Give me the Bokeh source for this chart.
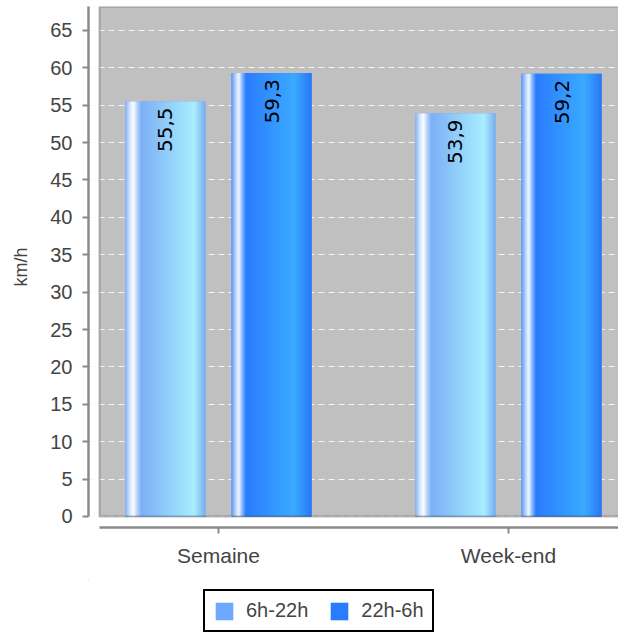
import numpy as np
from bokeh.plotting import figure
from bokeh.layouts import column
from bokeh.models import (BoxAnnotation, Range1d, FixedTicker, SingleIntervalTicker,
                          Legend, LegendItem, ColumnDataSource)
from bokeh.core.properties import value
from bokeh.embed import file_html
from bokeh.resources import INLINE

# ---- data ----
categories = ["Semaine", "Week-end"]
series_names = ["6h-22h", "22h-6h"]
speed_day = [55.5, 53.9]      # 6h-22h
speed_night = [59.3, 59.2]    # 22h-6h
y_label = "km/h"

# ---- style ----
BAR_W = 0.276
OFFSET = 0.183
X_START, X_END = -0.4483, 1.3793
BOX_LEFT = -0.4103
Y_START, Y_END = -1.471, 68.2
FONT = "Liberation Sans"
TXT = "#444444"
AXIS_C = "#8a8a8a"

light_solid = "#6fa8ff"
dark_solid = "#2a7cff"
light_stops = [(0.0, "#84b4f2"), (0.06, "#d8e8ff"), (0.10, "#ffffff"), (0.15, "#b0d0fa"),
               (0.20, "#7cb0f6"), (0.86, "#a8eeff"), (1.0, "#78acf0")]
dark_stops = [(0.0, "#5a9af8"), (0.06, "#c8dcff"), (0.09, "#f4f8ff"), (0.13, "#90bcff"),
              (0.18, "#2a7cff"), (0.78, "#3aaaff"), (1.0, "#2a78f6")]


def hex2rgb(h):
    h = h.lstrip("#")
    return [int(h[i:i + 2], 16) for i in (0, 2, 4)]


def gradient(stops, n=80):
    pos = np.array([s[0] for s in stops])
    cols = np.array([hex2rgb(s[1]) for s in stops], dtype=float)
    t = (np.arange(n) + 0.5) / n
    img = np.empty((1, n), dtype=np.uint32)
    view = img.view(dtype=np.uint8).reshape((1, n, 4))
    for c in range(3):
        view[0, :, c] = np.interp(t, pos, cols[:, c]).round().astype(np.uint8)
    view[0, :, 3] = 255
    return img


p = figure(width=618, height=580, output_backend="svg", toolbar_location=None,
           x_range=Range1d(X_START, X_END), y_range=Range1d(Y_START, Y_END),
           min_border_left=88, min_border_right=0, min_border_top=6, min_border_bottom=53)
p.outline_line_color = None
p.background_fill_color = "white"
p.border_fill_color = "white"

# grey plotting box
p.add_layout(BoxAnnotation(left=BOX_LEFT, right=2.0, bottom=0, top=Y_END,
                           fill_color="#c0c0c0", fill_alpha=1, line_color=None, level="image"))

xs = list(range(len(categories)))
src_day = ColumnDataSource(dict(x=[i - OFFSET for i in xs], top=speed_day,
                                lab=[f"{v:.1f}".replace(".", ",") for v in speed_day]))
src_night = ColumnDataSource(dict(x=[i + OFFSET for i in xs], top=speed_night,
                                  lab=[f"{v:.1f}".replace(".", ",") for v in speed_night]))

p.vbar(x="x", top="top", bottom=0, width=BAR_W, source=src_day,
       fill_color=light_solid, line_color=None)
p.vbar(x="x", top="top", bottom=0, width=BAR_W, source=src_night,
       fill_color=dark_solid, line_color=None)

g_light = gradient(light_stops)
g_dark = gradient(dark_stops)
p.image_rgba(image=[g_light] * len(xs), x=[i - OFFSET - BAR_W / 2 for i in xs],
             y=[0] * len(xs), dw=[BAR_W] * len(xs), dh=speed_day)
p.image_rgba(image=[g_dark] * len(xs), x=[i + OFFSET - BAR_W / 2 for i in xs],
             y=[0] * len(xs), dw=[BAR_W] * len(xs), dh=speed_night)

for src in (src_day, src_night):
    p.text(x="x", y="top", text="lab", source=src, angle=np.pi / 2,
           text_align="right", text_baseline="middle", y_offset=6,
           text_font=value("DejaVu Sans"), text_font_size="20px", text_color="black")

# border of the box, over the bars
p.add_layout(BoxAnnotation(left=BOX_LEFT, right=2.0, bottom=0, top=Y_END,
                           fill_color=None, line_color="#222222", line_width=2, level="overlay"))

# axes
p.xaxis.ticker = FixedTicker(ticks=xs)
p.xaxis.major_label_overrides = {i: c for i, c in enumerate(categories)}
p.xaxis.bounds = (BOX_LEFT, X_END)
p.yaxis.ticker = SingleIntervalTicker(interval=5, num_minor_ticks=0)
p.yaxis.bounds = (0, Y_END)
p.yaxis.axis_label = y_label
for ax in (p.xaxis[0], p.yaxis[0]):
    ax.axis_line_color = AXIS_C
    ax.axis_line_width = 2.5
    ax.major_tick_line_color = AXIS_C
    ax.major_tick_line_width = 2
    ax.major_tick_out = 6
    ax.major_tick_in = 0
    ax.minor_tick_line_color = None
    ax.major_label_text_font = FONT
    ax.major_label_text_font_size = "20px"
    ax.major_label_text_color = TXT
    ax.major_label_standoff = 10
    ax.axis_label_text_font = FONT
    ax.axis_label_text_font_size = "18px"
    ax.axis_label_text_font_style = "normal"
    ax.axis_label_text_color = TXT
p.xaxis.major_label_text_font_size = "21px"
p.yaxis.axis_label_standoff = 16

p.xgrid.grid_line_color = None
p.ygrid.grid_line_color = "#f4f4f4"
p.ygrid.grid_line_dash = "6 4"
p.ygrid.grid_line_width = 1

# ---- legend strip (same series, drawn far outside its visible ranges) ----
p2 = figure(width=618, height=53, output_backend="svg", toolbar_location=None,
            x_axis_type=None, y_axis_type=None,
            x_range=Range1d(100, 101), y_range=Range1d(-1000, -999),
            min_border_left=88, min_border_right=0, min_border_top=0, min_border_bottom=0)
p2.outline_line_color = None
p2.xgrid.visible = False
p2.ygrid.visible = False
lr_day = p2.vbar(x="x", top="top", bottom=0, width=BAR_W, source=src_day,
                 fill_color=light_solid, line_color=None)
lr_night = p2.vbar(x="x", top="top", bottom=0, width=BAR_W, source=src_night,
                   fill_color=dark_solid, line_color=None)
legend = Legend(items=[LegendItem(label=series_names[0], renderers=[lr_day]),
                       LegendItem(label=series_names[1], renderers=[lr_night])],
                orientation="horizontal", location=(115, 1),
                border_line_color="black", border_line_width=2, border_line_alpha=1,
                label_text_font=FONT, label_text_font_size="20px", label_text_color=TXT,
                glyph_width=22, glyph_height=22, label_standoff=11, spacing=20,
                padding=8, margin=0, background_fill_color="white", background_fill_alpha=1)
p2.add_layout(legend, "center")

layout = column(p, p2, spacing=0)
open("out.html", "w").write(file_html(layout, INLINE))
